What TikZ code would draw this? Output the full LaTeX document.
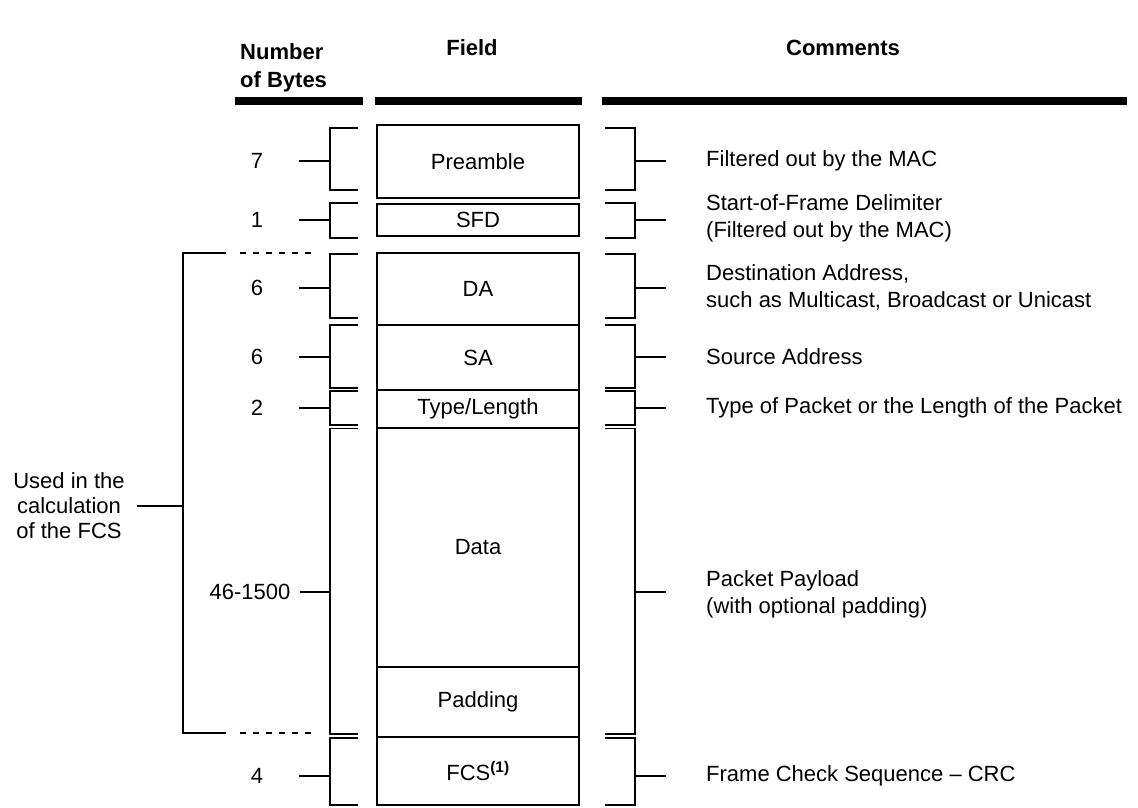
\documentclass[tikz,border=0pt]{standalone}
\usepackage{fontspec}
\setmainfont{Liberation Sans}
\usetikzlibrary{positioning}
\newcommand{\framefont}{\fontsize{22}{27}\selectfont}
\tikzset{
    field/.style={draw, rectangle, minimum width=202pt, inner sep=0pt, outer sep=0pt, line width=1.8pt, font=\framefont},
    colhead/.style={inner sep=0pt, anchor=base, font=\fontsize{22}{28}\selectfont\bfseries},
    headbar/.style={line width=8pt},
    brk/.style={line width=1.8pt},
    stem/.style={line width=1.8pt},
    num/.style={text width=84pt, align=center, inner sep=0pt, font=\framefont},
    note/.style={anchor=west, align=left, inner sep=0pt, font=\framefont},
    dotline/.style={line width=1.8pt, dash pattern=on 6pt off 7pt}
}

\begin{document}
\begin{tikzpicture}[x=1pt, y=-1pt]
        \useasboundingbox (0,0) rectangle (1138,807);

        % Spaltenkoepfe
        \node[colhead, anchor=north west, align=left] (h-bytes) at (240,43) {Number\\of Bytes};
        \node[colhead] (h-field) at (472,55) {Field};
        \node[colhead] (h-comm) at (843,55) {Comments};
        \draw[headbar] (235,101) -- (363,101);
        \draw[headbar] (375,101) -- (582,101);
        \draw[headbar] (602,101) -- (1127,101);

        % Felder des Rahmens
        \node[field, minimum height=73pt] (pre) at (478,161.5) {Preamble};
        \node[field, minimum height=32pt, below=6pt of pre] (sfd) {SFD};
        \node[field, minimum height=72pt, below=17pt of sfd] (da) {DA};
        \node[field, minimum height=65pt, below=0pt of da] (sa) {SA};
        \node[field, minimum height=38pt, below=0pt of sa] (type) {Type/Length};
        \node[field, minimum height=239pt, below=0pt of type] (data) {Data};
        \node[field, minimum height=70pt, below=0pt of data] (pad) {Padding};
        \node[field, minimum height=68pt, below=0pt of pad] (fcs) {FCS\textsuperscript{\bfseries(1)}};

        % Anzahl Bytes (links)
        \node[num] (n-pre) at (257,161) {7};
        \node[num] (n-sfd) at (257,220) {1};
        \node[num] (n-da) at (257,288) {6};
        \node[num] (n-sa) at (257,357) {6};
        \node[num] (n-type) at (257,408) {2};
        \node[num] (n-data) at (250,592) {46-1500};
        \node[num] (n-fcs) at (257,776) {4};

        \draw[brk] (358,128) -| (330,190) -- (358,190) (330,161) coordinate (lb-pre);
        \draw[brk] (358,203) -| (330,238) -- (358,238) (330,220) coordinate (lb-sfd);
        \draw[brk] (358,254) -| (330,318) -- (358,318) (330,288) coordinate (lb-da);
        \draw[brk] (358,325) -| (330,388) -- (358,388) (330,357) coordinate (lb-sa);
        \draw[brk] (358,391) -| (330,425) -- (358,425) (330,408) coordinate (lb-type);
        \draw[brk] (358,428.5) -| (330,734) -- (358,734) (330,592) coordinate (lb-data);
        \draw[brk] (358,738) -| (330,805) -- (358,805) (330,776) coordinate (lb-fcs);

        \draw[stem] (n-pre) -- (lb-pre);
        \draw[stem] (n-sfd) -- (lb-sfd);
        \draw[stem] (n-da) -- (lb-da);
        \draw[stem] (n-sa) -- (lb-sa);
        \draw[stem] (n-type) -- (lb-type);
        \draw[stem, shorten <=8pt] (n-data) -- (lb-data);
        \draw[stem] (n-fcs) -- (lb-fcs);

        % Kommentare (rechts)
        \node[note] (c-pre) at (706,161) {Filtered out by the MAC};
        \node[note] (c-sfd) at (706,218) {Start-of-Frame Delimiter\\(Filtered out by the MAC)};
        \node[note] (c-da) at (706,287) {Destination Address,\\such as Multicast, Broadcast or Unicast};
        \node[note] (c-sa) at (706,357) {Source Address};
        \node[note] (c-type) at (706,408) {Type of Packet or the Length of the Packet};
        \node[note] (c-data) at (706,594) {Packet Payload\\(with optional padding)};
        \node[note] (c-fcs) at (706,776) {Frame Check Sequence -- CRC};

        \draw[brk] (605,128) -| (635,190) -- (605,190) (635,161) coordinate (rb-pre);
        \draw[brk] (605,203) -| (635,238) -- (605,238) (635,220) coordinate (rb-sfd);
        \draw[brk] (605,254) -| (635,318) -- (605,318) (635,288) coordinate (rb-da);
        \draw[brk] (605,325) -| (635,388) -- (605,388) (635,357) coordinate (rb-sa);
        \draw[brk] (605,391) -| (635,425) -- (605,425) (635,408) coordinate (rb-type);
        \draw[brk] (605,428.5) -| (635,734) -- (605,734) (635,592) coordinate (rb-data);
        \draw[brk] (605,738) -| (635,805) -- (605,805) (635,776) coordinate (rb-fcs);

        \draw[stem] (rb-pre) -- ++(31,0) coordinate (rs-pre);
        \draw[stem] (rb-sfd) -- ++(31,0) coordinate (rs-sfd);
        \draw[stem] (rb-da) -- ++(31,0) coordinate (rs-da);
        \draw[stem] (rb-sa) -- ++(31,0) coordinate (rs-sa);
        \draw[stem] (rb-type) -- ++(31,0) coordinate (rs-type);
        \draw[stem] (rb-data) -- ++(31,0) coordinate (rs-data);
        \draw[stem] (rb-fcs) -- ++(31,0) coordinate (rs-fcs);

        % Bereich fuer die FCS-Berechnung
        \node[align=center, inner sep=0pt, font=\fontsize{22}{25}\selectfont] (calc) at (69,506) {Used in the\\calculation\\of the FCS};
        \draw[brk] (226,253) -| (183,733) -- (226,733) (183,506) coordinate (fcs-b);
        \draw[dotline] (240,253) -- (313,253);
        \draw[dotline] (240,733) -- (313,733);
        \draw[stem, shorten <=12pt] (calc) -- (fcs-b);

    \end{tikzpicture}
\end{document}
